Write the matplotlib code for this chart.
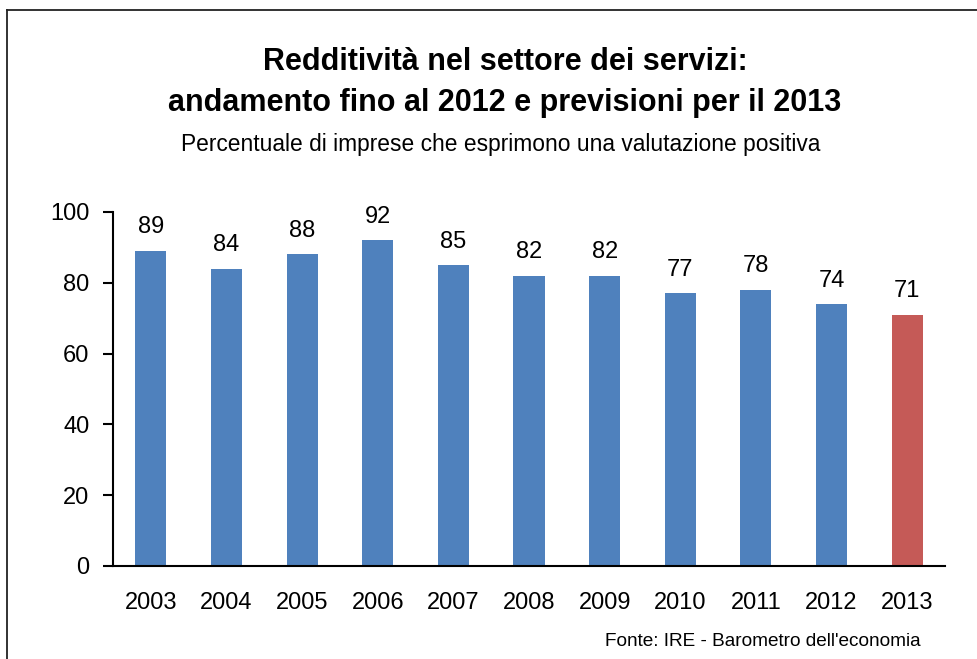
import matplotlib
matplotlib.use("Agg")
import matplotlib.pyplot as plt
from matplotlib.lines import Line2D

plt.rcParams['font.family'] = ['Liberation Sans Narrow', 'Liberation Sans', 'DejaVu Sans']

years = ['2003', '2004', '2005', '2006', '2007', '2008', '2009', '2010', '2011', '2012', '2013']
values = [89, 84, 88, 92, 85, 82, 82, 77, 78, 74, 71]
colors = ['#4F81BD'] * 10 + ['#C55A57']

W, H = 977, 659
fig = plt.figure(figsize=(W / 100, H / 100), dpi=100)
ax = fig.add_axes([113 / W, 1 - 566 / H, (945 - 113) / W, (566 - 212) / H])

x = list(range(len(years)))
ax.bar(x, values, width=0.41, color=colors)
for xi, v in zip(x, values):
    ax.annotate(str(v), (xi, v), xytext=(0, 9), textcoords='offset points',
                ha='center', va='bottom', fontsize=17)

ax.set_xlim(-0.5, len(years) - 0.5)
ax.set_ylim(0, 100)
ax.set_yticks(range(0, 101, 20))
ax.set_xticks(x)
ax.set_xticklabels(years)
ax.tick_params(axis='y', labelsize=17, length=7, width=1.5, pad=10)
ax.tick_params(axis='x', labelsize=17, length=0, pad=19)
for s in ['top', 'right']:
    ax.spines[s].set_visible(False)
for s in ['left', 'bottom']:
    ax.spines[s].set_linewidth(1.5)

fig.text(505 / W, 1 - 62 / H, "Redditività nel settore dei servizi:",
         ha='center', va='center', fontsize=22, fontweight='bold')
fig.text(505 / W, 1 - 103 / H, "andamento fino al 2012 e previsioni per il 2013",
         ha='center', va='center', fontsize=22, fontweight='bold')
fig.text(501 / W, 1 - 145 / H, "Percentuale di imprese che esprimono una valutazione positiva",
         ha='center', va='center', fontsize=16.4)
fig.text(921 / W, 1 - 642 / H, "Fonte: IRE - Barometro dell'economia",
         ha='right', va='center', fontsize=13.7)

# frame around the chart
fig.add_artist(Line2D([7 / W, 7 / W], [0, 1 - 10 / H], color='#222222', lw=1.3))
fig.add_artist(Line2D([7 / W, 1], [1 - 10 / H, 1 - 10 / H], color='#222222', lw=1.3))

fig.savefig('out.png', dpi=100)
